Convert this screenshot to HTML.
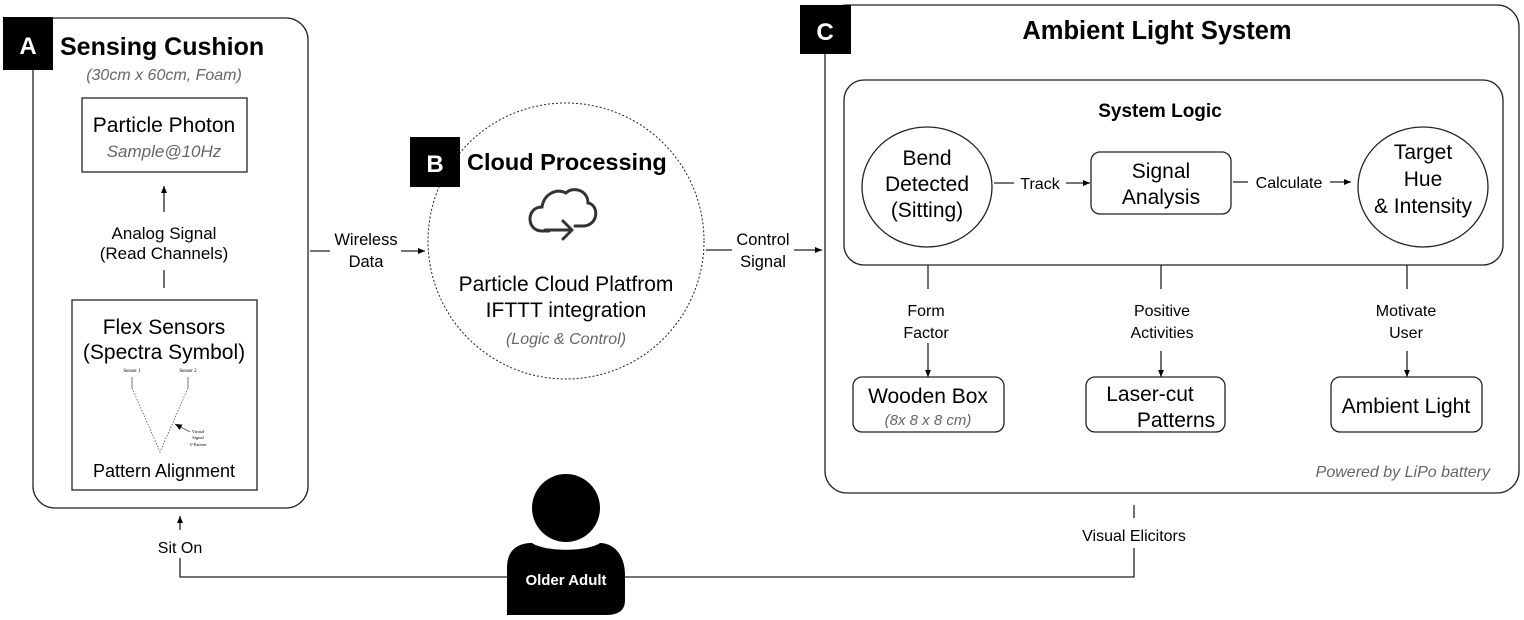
<!DOCTYPE html>
<html><head><meta charset="utf-8"><style>
body{margin:0;background:#fff}
svg{display:block;font-family:"Liberation Sans",Arial,sans-serif}
</style></head><body>
<svg width="1524" height="620" viewBox="0 0 1524 620" xmlns="http://www.w3.org/2000/svg">
<defs>
<marker id="ar" markerWidth="8" markerHeight="8" refX="7" refY="4" orient="auto" markerUnits="userSpaceOnUse">
<path d="M0,1 L7,4 L0,7 z" fill="#000"/></marker>
</defs>
<g fill="none" stroke="#222" stroke-width="1.3">
<rect x="33" y="18" width="275" height="490" rx="22"/>
<rect x="82" y="98" width="165" height="74"/>
<rect x="72" y="300" width="185" height="190"/>
<line x1="164" y1="212" x2="164" y2="186" marker-end="url(#ar)"/>
<line x1="164" y1="270" x2="164" y2="288"/>
<line x1="310" y1="251" x2="330" y2="251"/>
<line x1="401" y1="251" x2="425" y2="251" marker-end="url(#ar)"/>
<circle cx="566" cy="241" r="138" stroke-dasharray="2,2" stroke-width="1"/>
<line x1="706" y1="250" x2="732" y2="250"/>
<line x1="794" y1="250" x2="822" y2="250" marker-end="url(#ar)"/>
<rect x="825" y="5" width="694" height="488" rx="22"/>
<rect x="844" y="80" width="659" height="185" rx="20"/>
<ellipse cx="927" cy="187" rx="65" ry="60"/>
<rect x="1091" y="152" width="140" height="62" rx="9"/>
<ellipse cx="1423" cy="187" rx="65" ry="60"/>
<line x1="994" y1="183" x2="1014" y2="183"/>
<line x1="1066" y1="183" x2="1090" y2="183" marker-end="url(#ar)"/>
<line x1="1233" y1="182" x2="1248" y2="182"/>
<line x1="1330" y1="182" x2="1351" y2="182" marker-end="url(#ar)"/>
<rect x="853" y="377" width="151" height="55" rx="9"/>
<rect x="1086" y="377" width="139" height="55" rx="9"/>
<rect x="1331" y="377" width="151" height="55" rx="9"/>
<line x1="928" y1="265" x2="928" y2="289"/>
<line x1="928" y1="343" x2="928" y2="377" marker-end="url(#ar)"/>
<line x1="1161" y1="265" x2="1161" y2="289"/>
<line x1="1161" y1="351" x2="1161" y2="377" marker-end="url(#ar)"/>
<line x1="1407" y1="265" x2="1407" y2="289"/>
<line x1="1407" y1="351" x2="1407" y2="377" marker-end="url(#ar)"/>
<line x1="1134" y1="505" x2="1134" y2="518"/>
<polyline points="1134,548 1134,577 180,577 180,558"/>
<line x1="180" y1="530" x2="180" y2="516" marker-end="url(#ar)"/>
<g stroke="#555" stroke-width="0.8">
<line x1="132" y1="377" x2="132" y2="388"/>
<line x1="188" y1="377" x2="188" y2="388"/>
<polyline points="132,388 160,452 188,388" stroke-dasharray="1.5,1.5"/>
<line x1="190" y1="432" x2="175" y2="424" marker-end="url(#ar)"/>
</g>
<path d="M549,231 L542,231 C526,231 526,207 542,207 C544,194 556,188 566,193 C573,186 588,190 588,203 C598,204 600,224 584,226 L575,226" stroke="#333" stroke-width="3" stroke-linecap="round"/>
<path d="M545,230 L572,230 M563,221 L572,230 L563,239" stroke="#333" stroke-width="3" stroke-linecap="round" stroke-linejoin="round"/>
</g>
<rect x="3" y="17" width="50" height="53" fill="#000"/>
<text x="28" y="54" font-size="24" font-weight="bold" fill="#fff" text-anchor="middle">A</text>
<rect x="410" y="137" width="50" height="50" fill="#000"/>
<text x="435" y="172" font-size="24" font-weight="bold" fill="#fff" text-anchor="middle">B</text>
<rect x="800" y="5" width="51" height="49" fill="#000"/>
<text x="825" y="40" font-size="24" font-weight="bold" fill="#fff" text-anchor="middle">C</text>
<circle cx="566" cy="508" r="34" fill="#000"/>
<path d="M507,615 L507,568 C507,548 520,543 532,543 C545,552 587,552 600,543 C612,543 625,553 625,575 L625,600 C625,613 615,615 605,615 Z" fill="#000"/>
<text x="566" y="585" font-size="15" font-weight="bold" fill="#fff" text-anchor="middle">Older Adult</text>
<g fill="#000" text-anchor="middle" font-size="21">
<text x="60" y="55" font-size="25" font-weight="bold" text-anchor="start">Sensing Cushion</text>
<text x="164" y="80" font-size="16" font-style="italic" fill="#666">(30cm x 60cm, Foam)</text>
<text x="164" y="132">Particle Photon</text>
<text x="164" y="157" font-size="17" font-style="italic" fill="#666">Sample@10Hz</text>
<text x="164" y="239" font-size="17">Analog Signal</text>
<text x="164" y="259" font-size="17">(Read Channels)</text>
<text x="164" y="334">Flex Sensors</text>
<text x="164" y="359">(Spectra Symbol)</text>
<text x="132" y="372" font-size="5" font-family="Liberation Serif,serif">Sensor 1</text>
<text x="188" y="372" font-size="5" font-family="Liberation Serif,serif">Sensor 2</text>
<text x="198" y="433" font-size="4.5" font-family="Liberation Serif,serif">Virtual</text>
<text x="198" y="439" font-size="4.5" font-family="Liberation Serif,serif">Signal</text>
<text x="198" y="446" font-size="4.5" font-family="Liberation Serif,serif">V-Pattern</text>
<text x="164" y="477" font-size="18">Pattern Alignment</text>
<text x="366" y="245" font-size="16.5">Wireless</text>
<text x="366" y="267" font-size="16.5">Data</text>
<text x="467" y="170" font-size="23.5" font-weight="bold" text-anchor="start">Cloud Processing</text>
<text x="566" y="291">Particle Cloud Platfrom</text>
<text x="566" y="317">IFTTT integration</text>
<text x="566" y="344" font-size="16" font-style="italic" fill="#666">(Logic &amp; Control)</text>
<text x="763" y="245" font-size="16.5">Control</text>
<text x="763" y="267" font-size="16.5">Signal</text>
<text x="1157" y="39" font-size="25.5" font-weight="bold">Ambient Light System</text>
<text x="1160" y="117" font-size="19" font-weight="bold">System Logic</text>
<text x="927" y="165">Bend</text>
<text x="927" y="191">Detected</text>
<text x="927" y="217">(Sitting)</text>
<text x="1040" y="189" font-size="16">Track</text>
<text x="1161" y="178">Signal</text>
<text x="1161" y="204">Analysis</text>
<text x="1289" y="188" font-size="16">Calculate</text>
<text x="1423" y="159">Target</text>
<text x="1423" y="186">Hue</text>
<text x="1423" y="213">&amp; Intensity</text>
<text x="926" y="316" font-size="16">Form</text>
<text x="926" y="338" font-size="16">Factor</text>
<text x="1162" y="316" font-size="16">Positive</text>
<text x="1162" y="338" font-size="16">Activities</text>
<text x="1406" y="316" font-size="16">Motivate</text>
<text x="1406" y="338" font-size="16">User</text>
<text x="928" y="403">Wooden Box</text>
<text x="928" y="425" font-size="15" font-style="italic" fill="#666">(8x 8 x 8 cm)</text>
<text x="1150" y="401">Laser-cut</text>
<text x="1176" y="427">Patterns</text>
<text x="1406" y="413">Ambient Light</text>
<text x="1490" y="477" font-size="16" font-style="italic" fill="#666" text-anchor="end">Powered by LiPo battery</text>
<text x="1134" y="541" font-size="16">Visual Elicitors</text>
<text x="180" y="553" font-size="16">Sit On</text>
</g>
</svg>
</body></html>
